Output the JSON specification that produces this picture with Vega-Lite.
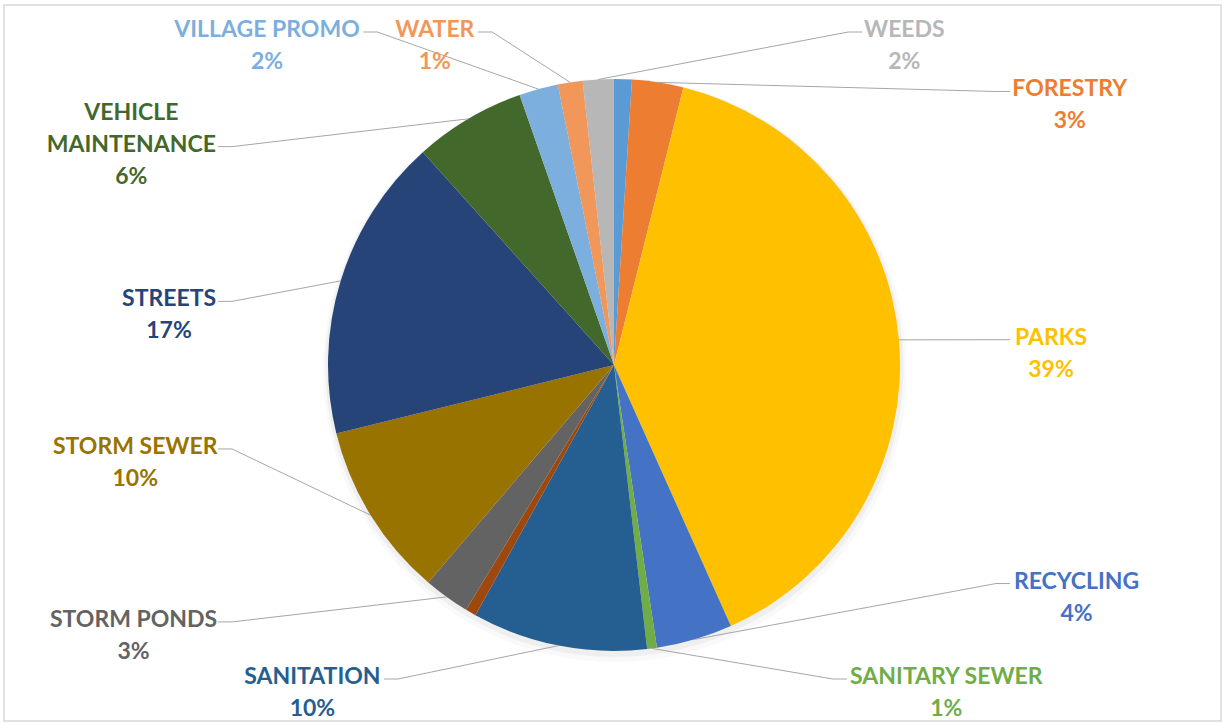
{
  "$schema": "https://vega.github.io/schema/vega-lite/v6.json",
  "width": 1225,
  "height": 723,
  "autosize": {"type": "fit", "contains": "padding"},
  "padding": {"left": 4, "top": 5, "right": 4, "bottom": 2},
  "background": "white",
  "config": {
    "view": {"stroke": "#D9D9D9", "strokeWidth": 1.5},
    "font": "Lato"
  },
  "data": {
    "values": [
      {"dept": "OTHER 1", "share": 0.010, "labeled": false},
      {"dept": "FORESTRY", "share": 0.029, "labeled": true},
      {"dept": "PARKS", "share": 0.394, "labeled": true},
      {"dept": "RECYCLING", "share": 0.043, "labeled": true},
      {"dept": "SANITARY SEWER", "share": 0.0055, "labeled": true},
      {"dept": "SANITATION", "share": 0.099, "labeled": true},
      {"dept": "OTHER 2", "share": 0.006, "labeled": false},
      {"dept": "STORM PONDS", "share": 0.026, "labeled": true},
      {"dept": "STORM SEWER", "share": 0.099, "labeled": true},
      {"dept": "STREETS", "share": 0.172, "labeled": true},
      {"dept": "VEHICLE MAINTENANCE", "share": 0.063, "labeled": true},
      {"dept": "VILLAGE PROMO", "share": 0.022, "labeled": true},
      {"dept": "WATER", "share": 0.014, "labeled": true},
      {"dept": "WEEDS", "share": 0.0175, "labeled": true}
    ]
  },
  "transform": [
    {"window": [{"op": "row_number", "as": "idx"}]},
    {"joinaggregate": [{"op": "sum", "field": "share", "as": "total"}]},
    {"window": [{"op": "sum", "field": "share", "as": "cum"}], "sort": [{"field": "idx"}], "frame": [null, 0]},
    {"calculate": "360 * (datum.cum - datum.share / 2) / datum.total", "as": "mid"}
  ],
  "layer": [
    {
      "mark": {"type": "arc", "outerRadius": 292, "color": "#000000", "opacity": 0.025, "x": {"expr": "width / 2 + 2.5"}, "y": {"expr": "height / 2 + 7"}},
      "encoding": {
        "theta": {"field": "share", "type": "quantitative", "stack": true},
        "order": {"field": "idx", "type": "quantitative"}
      }
    },
    {
      "mark": {"type": "arc", "outerRadius": 289, "color": "#000000", "opacity": 0.04, "x": {"expr": "width / 2 + 2"}, "y": {"expr": "height / 2 + 5"}},
      "encoding": {
        "theta": {"field": "share", "type": "quantitative", "stack": true},
        "order": {"field": "idx", "type": "quantitative"}
      }
    },
    {
      "mark": {"type": "arc", "outerRadius": 286, "x": {"expr": "width / 2 + 1.5"}, "y": {"expr": "height / 2 + 2"}},
      "encoding": {
        "theta": {"field": "share", "type": "quantitative", "stack": true},
        "order": {"field": "idx", "type": "quantitative"},
        "color": {
          "field": "dept",
          "type": "nominal",
          "legend": null,
          "scale": {
            "domain": ["OTHER 1", "FORESTRY", "PARKS", "RECYCLING", "SANITARY SEWER", "SANITATION", "OTHER 2", "STORM PONDS", "STORM SEWER", "STREETS", "VEHICLE MAINTENANCE", "VILLAGE PROMO", "WATER", "WEEDS"],
            "range": ["#5B9BD5", "#ED7D31", "#FFC000", "#4472C4", "#70AD47", "#255E91", "#9E480E", "#636363", "#997300", "#264478", "#43682B", "#7CAFDD", "#F1975A", "#B7B7B7"]
          }
        }
      }
    },
    {
      "transform": [
        {"filter": "datum.labeled"},
        {"calculate": "(datum.mid + 6) % 360 < 186 ? 'R' : 'L'", "as": "side"},
        {"calculate": "datum.side == 'R' ? 90 + ((datum.mid >= 180 ? datum.mid - 360 : datum.mid) - 90) * 0.45 : 282 + (datum.mid - 282) * 0.45", "as": "comp"},
        {"window": [{"op": "row_number", "as": "j"}], "groupby": ["side"], "sort": [{"field": "comp"}]},
        {"calculate": "datum.comp - 18 * (datum.j - 1)", "as": "t"},
        {"window": [{"op": "max", "field": "t", "as": "tmax"}], "groupby": ["side"], "sort": [{"field": "comp"}], "frame": [null, 0]},
        {"window": [{"op": "min", "field": "t", "as": "tmin"}], "groupby": ["side"], "sort": [{"field": "comp"}], "frame": [0, null]},
        {"calculate": "18 * (datum.j - 1) + (datum.tmax + datum.tmin) / 2", "as": "la"},
        {"calculate": "length(datum.dept) > 15 ? split(datum.dept, ' ') : [datum.dept]", "as": "nameLines"},
        {"calculate": "length(datum.nameLines) > 1 ? [datum.nameLines[0], datum.nameLines[1], format(datum.share / datum.total, '.0%')] : [datum.dept, format(datum.share / datum.total, '.0%')]", "as": "lines"},
        {"calculate": "length(datum.lines)", "as": "n"},
        {"calculate": "length(datum.nameLines) > 1 ? (length(datum.nameLines[1]) >= length(datum.nameLines[0]) ? datum.nameLines[1] : datum.nameLines[0]) : datum.dept", "as": "wl"},
        {"calculate": "length(datum.wl) - length(replace(datum.wl, regexp('I', 'g'), ''))", "as": "cI"},
        {"calculate": "length(datum.wl) - length(replace(datum.wl, regexp(' ', 'g'), ''))", "as": "cSp"},
        {"calculate": "length(datum.wl) - length(replace(datum.wl, regexp('[MW]', 'g'), ''))", "as": "cMW"},
        {"calculate": "length(datum.wl) - length(replace(datum.wl, regexp('[ADGHNOQUV]', 'g'), ''))", "as": "cWide"},
        {"calculate": "length(datum.wl) - length(replace(datum.wl, regexp('[EFJLST]', 'g'), ''))", "as": "cNar"},
        {"calculate": "14.9 * length(datum.wl) - 8 * datum.cI - 10.5 * datum.cSp + 7.1 * datum.cMW + 1.9 * datum.cWide - 2.4 * datum.cNar", "as": "w"},
        {"calculate": "sin(datum.la * PI / 180)", "as": "sa"},
        {"calculate": "cos(datum.la * PI / 180)", "as": "ca"},
        {"calculate": "min((400 + datum.w / 2) / max(abs(datum.sa), 0.001), ((datum.ca > 0 ? 293 : 290) + 16 * datum.n) / max(abs(datum.ca), 0.001))", "as": "tt"},
        {"calculate": "datum.tt * datum.sa", "as": "lx"},
        {"calculate": "datum.tt * datum.ca", "as": "ly"},
        {"calculate": "datum.ly + (datum.n - 1) * 16 - 6", "as": "ty"},
        {"calculate": "286 * sin(datum.mid * PI / 180)", "as": "sx"},
        {"calculate": "286 * cos(datum.mid * PI / 180)", "as": "sy"},
        {"calculate": "datum.sx < datum.lx ? -1 : 1", "as": "dir"},
        {"calculate": "datum.lx + datum.dir * (datum.w / 2 + 4)", "as": "ax"},
        {"calculate": "datum.ly + (datum.n - 1) * 16 - 32 * floor((datum.n - 1) / 2) - 8", "as": "ay"},
        {"calculate": "datum.ax + datum.dir * 14", "as": "bx"}
      ],
      "layer": [
        {
          "mark": {"type": "rule", "color": "#A6A6A6", "strokeWidth": 1},
          "encoding": {
            "x": {"field": "sx", "type": "quantitative", "axis": null, "scale": {"domain": [-610, 607], "nice": false, "zero": false}},
            "y": {"field": "sy", "type": "quantitative", "axis": null, "scale": {"domain": [-356, 360], "nice": false, "zero": false}},
            "x2": {"field": "bx"},
            "y2": {"field": "ay"}
          }
        },
        {
          "mark": {"type": "rule", "color": "#A6A6A6", "strokeWidth": 1},
          "encoding": {
            "x": {"field": "bx", "type": "quantitative"},
            "y": {"field": "ay", "type": "quantitative"},
            "x2": {"field": "ax"},
            "y2": {"field": "ay"}
          }
        },
        {
          "mark": {"type": "text", "align": "center", "baseline": "middle", "lineHeight": 32, "font": "Lato", "fontWeight": "bold", "fontSize": 23},
          "encoding": {
            "x": {"field": "lx", "type": "quantitative"},
            "y": {"field": "ty", "type": "quantitative"},
            "text": {"field": "lines"},
            "color": {"field": "dept", "type": "nominal"}
          }
        }
      ]
    }
  ]
}
